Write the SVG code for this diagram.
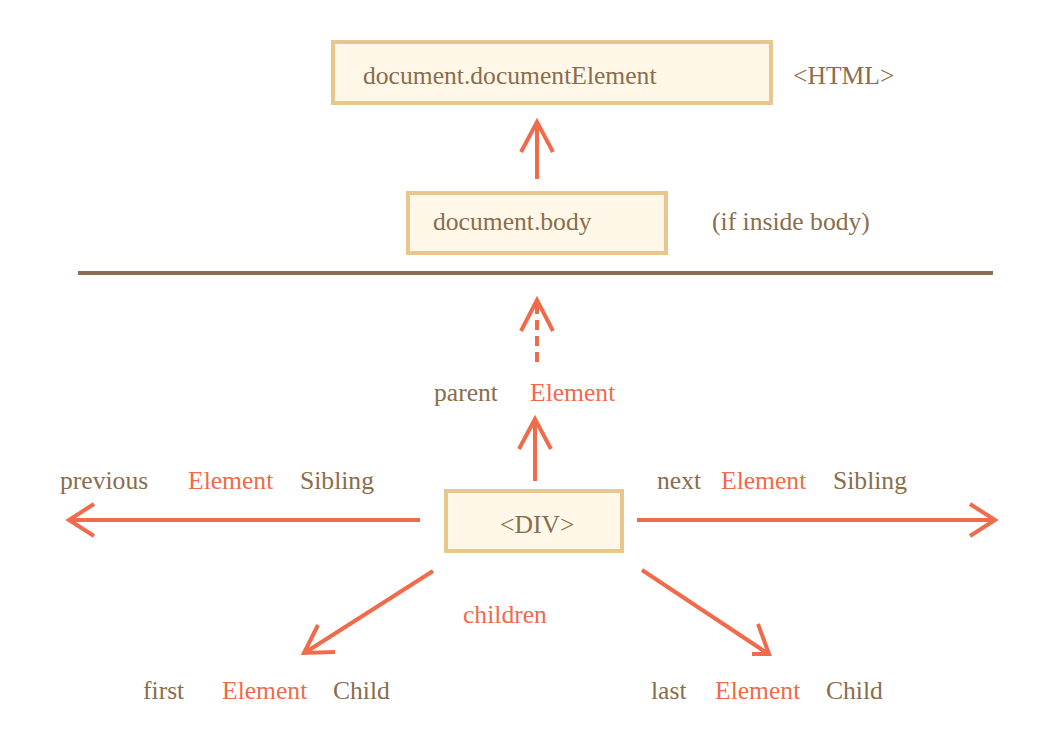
<svg xmlns="http://www.w3.org/2000/svg" width="1062" height="752" viewBox="0 0 1062 752">
<style>
text{font-family:"Liberation Serif","Times New Roman",serif;font-size:25.6px;fill:#8a6d4b}
.r{fill:#ef6b4b}
.box{fill:#fff8e9;stroke:#e9c68d;stroke-width:4}
.ar{fill:none;stroke:#ef6b4b;stroke-width:4}
</style>
<rect width="1062" height="752" fill="#fff"/>
<g id="html">
<rect class="box" x="333" y="42" width="438" height="61"/>
<text x="363" y="84">document.documentElement</text>
<text x="793" y="84">&lt;HTML&gt;</text>
</g>
<g id="body">
<rect class="box" x="408" y="193" width="258" height="60"/>
<text x="433" y="230">document.body</text>
<text x="712" y="230">(if inside body)</text>
</g>
<g id="divider">
<line x1="78" y1="273" x2="993" y2="273" stroke="#8b7153" stroke-width="4"/>
</g>
<g id="div">
<rect class="box" x="446" y="491" width="176" height="60"/>
<text x="500" y="533">&lt;DIV&gt;</text>
</g>
<g id="labels">
<text x="434" y="401">parent</text>
<text class="r" x="530" y="401">Element</text>
<text x="60" y="489">previous</text>
<text class="r" x="188" y="489">Element</text>
<text x="300" y="489">Sibling</text>
<text x="657" y="489">next</text>
<text class="r" x="721" y="489">Element</text>
<text x="833" y="489">Sibling</text>
<text class="r" x="463" y="623">children</text>
<text x="143" y="699">first</text>
<text class="r" x="222" y="699">Element</text>
<text x="333" y="699">Child</text>
<text x="651" y="699">last</text>
<text class="r" x="715" y="699">Element</text>
<text x="826" y="699">Child</text>
</g>
<g id="connectors">
<line class="ar" x1="537" y1="179" x2="537" y2="123"/>
<polyline class="ar" points="521,152 537,122 553,152"/>
<line class="ar" x1="537" y1="362" x2="537" y2="302" stroke-dasharray="10,6"/>
<polyline class="ar" points="521,331 537,300 553,331"/>
<line class="ar" x1="535" y1="481" x2="535" y2="420"/>
<polyline class="ar" points="519,449 535,419 551,449"/>
<line class="ar" x1="420" y1="520" x2="70" y2="520"/>
<polyline class="ar" points="94,504 69,520 94,536"/>
<line class="ar" x1="637" y1="520" x2="994" y2="520"/>
<polyline class="ar" points="970,504 995,520 970,536"/>
<line class="ar" x1="433" y1="571" x2="306" y2="652"/>
<polyline class="ar" points="318,625 304,653 335,652"/>
<line class="ar" x1="642" y1="570" x2="767" y2="653"/>
<polyline class="ar" points="758,624 769,654 752,654"/>
</g>
</svg>
